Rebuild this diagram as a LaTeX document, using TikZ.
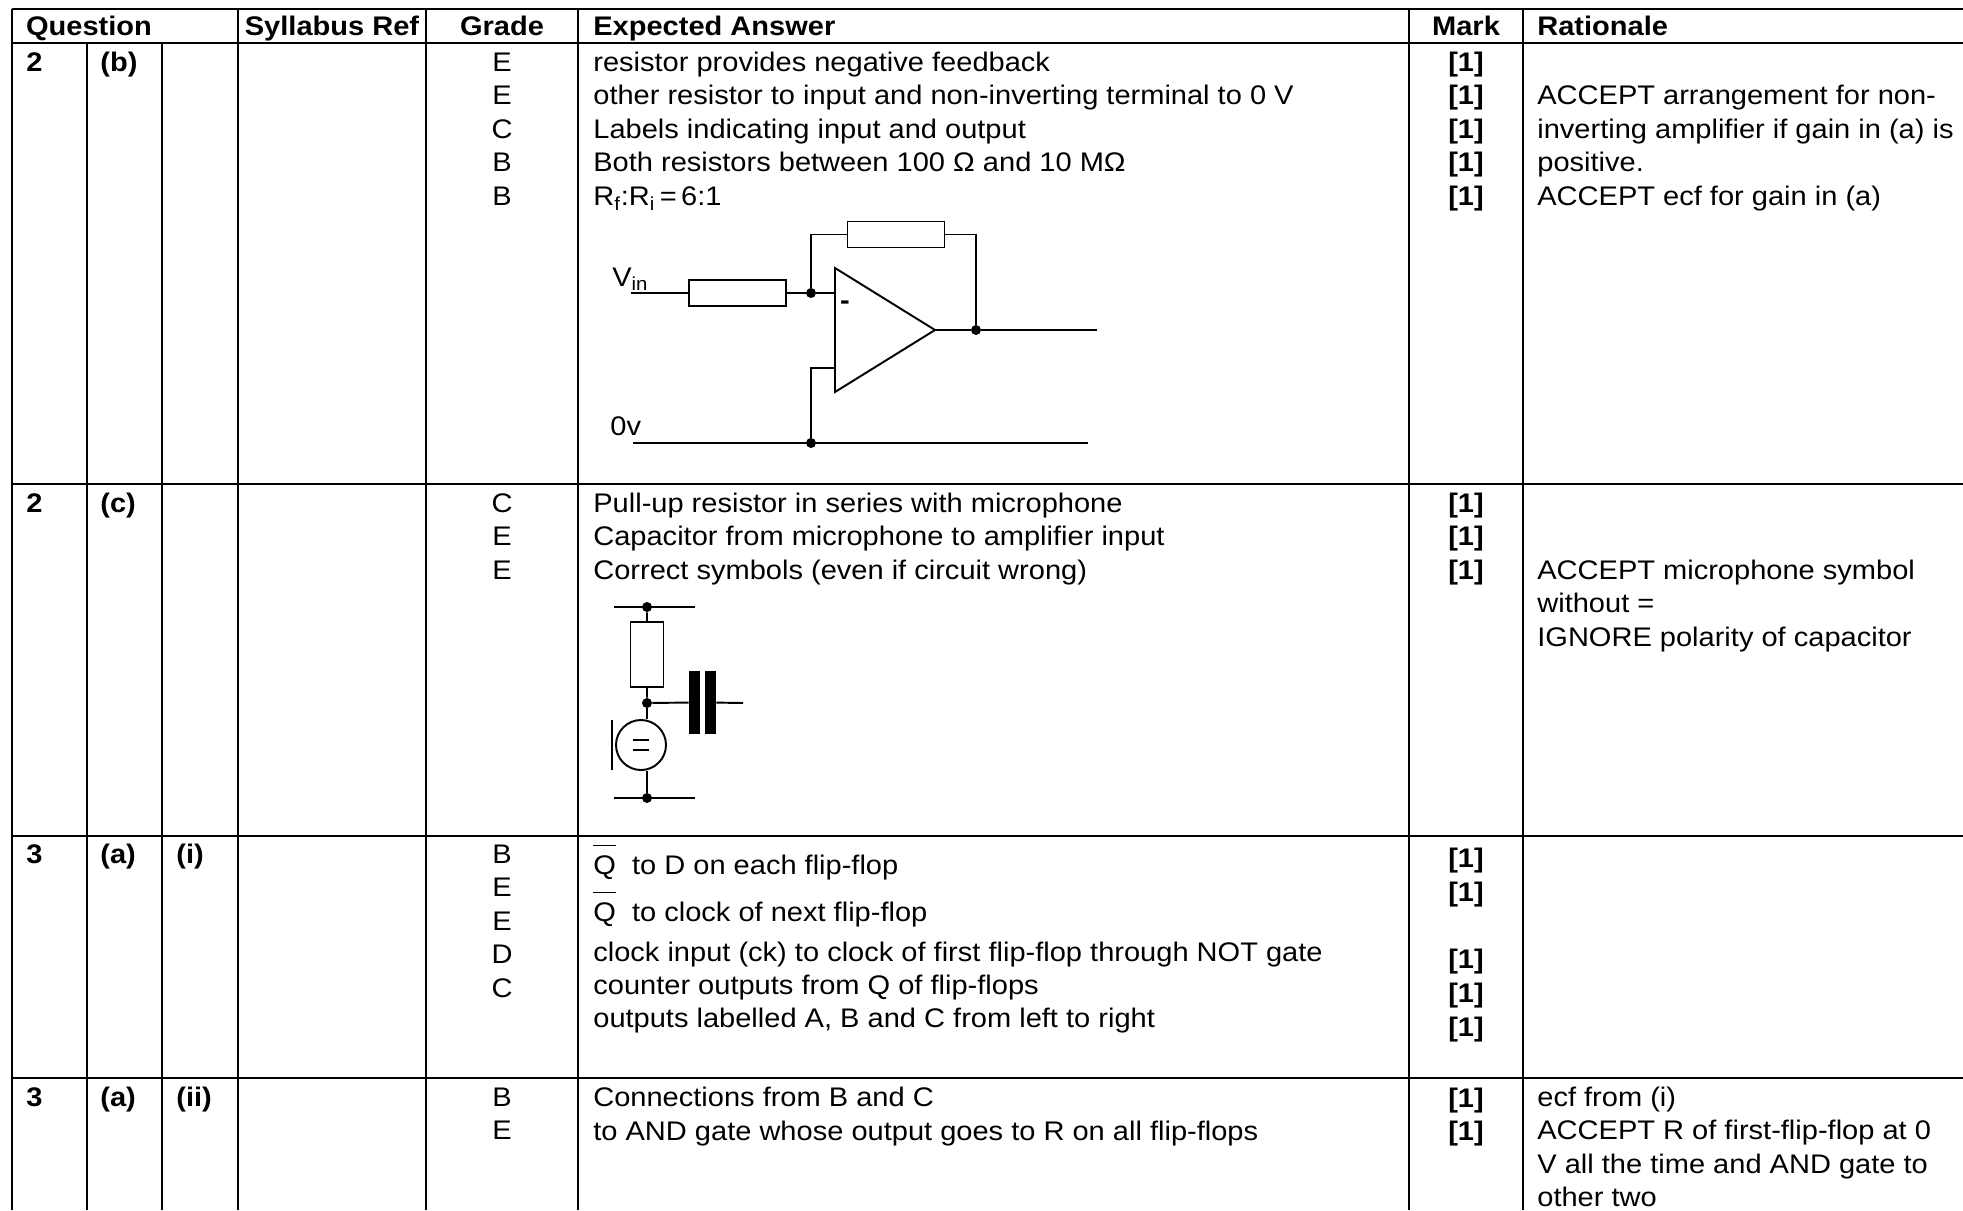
\documentclass[tikz,border=0pt]{standalone}
\usepackage{fontspec}
\setmainfont{Liberation Sans}[FakeStretch=1.08]
\usetikzlibrary{positioning}

\newcommand{\qbar}{$\overline{\mbox{\rule{0pt}{15pt}Q}}$}

\tikzset{
  rule/.style={line width=1.5pt},
  colrule/.style={line width=1.2pt},
  txt/.style={anchor=base west, inner sep=0pt, font=\fontsize{15.3}{19.1}\selectfont},
  ctr/.style={anchor=base, inner sep=0pt, font=\fontsize{15.3}{19.1}\selectfont},
  hd/.style={txt, font=\fontsize{15.3}{19.1}\selectfont\bfseries},
  hdc/.style={ctr, font=\fontsize{15.3}{19.1}\selectfont\bfseries},
  wire/.style={line width=1.1pt},
  res/.style={draw, line width=1.1pt, fill=white, inner sep=0pt, minimum width=1.94cm, minimum height=0.52cm},
  vres/.style={res, minimum width=0.66cm, minimum height=1.3cm},
  plate/.style={fill, inner sep=0pt, minimum width=0.22cm, minimum height=1.26cm},
  dot/.style={circle, fill, inner sep=0pt, minimum size=0.2cm}
}

\begin{document}
\begin{tikzpicture}[x=0.02cm, y=-0.02cm]
\useasboundingbox (0,0) rectangle (1963,1210);

% table rules
\foreach \y in {9,43,484,836,1078}
  \draw[rule] (12,\y) -- (1963,\y);
\draw[rule] (12,9) -- (12,1210);
\foreach \x in {87,162}
  \draw[colrule] (\x,43) -- (\x,1210);
\foreach \x in {238,426,578,1409,1523}
  \draw[colrule] (\x,9) -- (\x,1210);

% header
\node[hdc] (hq) at (89,35) {Question};
\node[hdc] (hs) at (332,35) {Syllabus Ref};
\node[hdc] (hg) at (502,35) {Grade};
\node[hd] (he) at (593,35) {Expected Answer};
\node[hdc] (hm) at (1466,35) {Mark};
\node[hd] (hr) at (1537,35) {Rationale};

% question numbers
\node[hd] (q1) at (26,71) {2};    \node[hd] (p1) at (100,71) {(b)};
\node[hd] (q2) at (26,512) {2};   \node[hd] (p2) at (100,512) {(c)};
\node[hd] (q3) at (26,863) {3};   \node[hd] (p3) at (100,863) {(a)};
\node[hd] (s3) at (176,863) {(i)};
\node[hd] (q4) at (26,1106) {3};  \node[hd] (p4) at (100,1106) {(a)};
\node[hd] (s4) at (176,1106) {(ii)};

% grades
\foreach \g [count=\i] in {E,E,C,B,B}
  \node[ctr] (g2b-\i) at (502,{71+33.6*(\i-1)}) {\g};
\foreach \g [count=\i] in {C,E,E}
  \node[ctr] (g2c-\i) at (502,{512+33.6*(\i-1)}) {\g};
\foreach \g [count=\i] in {B,E,E,D,C}
  \node[ctr] (g3i-\i) at (502,{863+33.6*(\i-1)}) {\g};
\foreach \g [count=\i] in {B,E}
  \node[ctr] (g3ii-\i) at (502,{1106+33.6*(\i-1)}) {\g};

% expected answers
\foreach \t [count=\i] in {resistor provides negative feedback,
    other resistor to input and non-inverting terminal to 0 V,
    Labels indicating input and output,
    Both resistors between 100 Ω and 10 MΩ,
    R\textsubscript{f}:R\textsubscript{i}\,=\,6:1}
  \node[txt] (a2b-\i) at (593,{71+33.6*(\i-1)}) {\t};
\foreach \t [count=\i] in {Pull-up resistor in series with microphone,
    Capacitor from microphone to amplifier input,
    Correct symbols (even if circuit wrong)}
  \node[txt] (a2c-\i) at (593,{512+33.6*(\i-1)}) {\t};
\node[txt] (a3i-1) at (593,874) {\qbar\ \ to D on each flip-flop};
\node[txt] (a3i-2) at (593,921) {\qbar\ \ to clock of next flip-flop};
\node[txt] (a3i-3) at (593,961) {clock input (ck) to clock of first flip-flop through NOT gate};
\node[txt] (a3i-4) at (593,994) {counter outputs from Q of flip-flops};
\node[txt] (a3i-5) at (593,1027) {outputs labelled A, B and C from left to right};
\node[txt] (a3ii-1) at (593,1106) {Connections from B and C};
\node[txt] (a3ii-2) at (593,1140) {to AND gate whose output goes to R on all flip-flops};

% marks
\foreach \y in {71,104.6,138.2,171.8,205.4,512,545.6,579.2,867,901,968,1002,1036,1107,1140}
  \node[hdc] (m-\y) at (1466,\y) {[1]};

% rationale
\foreach \t [count=\i] in {ACCEPT arrangement for non-,
    inverting amplifier if gain in (a) is,
    positive.,
    ACCEPT ecf for gain in (a)}
  \node[txt] (r2b-\i) at (1537,{104.6+33.6*(\i-1)}) {\t};
\foreach \t [count=\i] in {ACCEPT microphone symbol,
    without =,
    IGNORE polarity of capacitor}
  \node[txt] (r2c-\i) at (1537,{579.2+33.6*(\i-1)}) {\t};
\foreach \t [count=\i] in {ecf from (i),
    ACCEPT R of first-flip-flop at 0,
    V all the time and AND gate to,
    other two}
  \node[txt] (r3ii-\i) at (1537,{1106+33.6*(\i-1)}) {\t};

% inverting amplifier
\node[txt] (vinl) at (612,286) {V\textsubscript{in}};
\node[txt] (zerol) at (610,435) {0v};
\coordinate (vin) at (631,293);
\node[res] (ri) at (737.5,293) {};
\node[dot] (jn) at (811,293) {};
\coordinate (inm) at (835,293);
\coordinate (inp) at (835,368);
\coordinate (tp) at (835,268);
\coordinate (bt) at (835,392);
\coordinate (tip) at (935,330);
\node[res] (rf) at (896,234.5) {};
\node[dot] (jo) at (976,330) {};
\coordinate (vout) at (1097,330);
\node[dot] (jg) at (811,443) {};
\coordinate (g0) at (633,443);
\coordinate (g1) at (1088,443);
\node[hdc] (minus) at (845,309) {-};
\draw[wire] (tp) -- (tip) -- (bt) -- cycle;
\draw[wire] (vin) -- (ri) -- (jn) -- (inm);
\draw[wire] (jn) |- (rf) -| (jo);
\draw[wire] (tip) -- (jo) -- (vout);
\draw[wire] (inp) -| (jg);
\draw[wire] (g0) -- (g1);

% microphone with pull-up and capacitor
\coordinate (t0) at (614,607);
\coordinate (t1) at (695,607);
\node[dot] (jt) at (647,607) {};
\node[vres] (rp) at (647,654.5) {};
\node[dot] (jm) at (647,703) {};
\node[plate] (c1) at (694.5,702.5) {};
\node[plate] (c2) at (710.5,702.5) {};
\coordinate (co) at (743,703);
\node[draw, circle, wire, inner sep=0pt, minimum size=1.0cm] (mic) at (641,745) {};
\node[dot] (jb) at (647,798) {};
\coordinate (b0) at (614,798);
\coordinate (b1) at (695,798);
\draw[wire] (t0) -- (t1);
\draw[wire] (jt) -- (rp) -- (jm) -- (c1);
\draw[wire] (c2) -- (co);
\draw[wire] (jm) -- (jm |- mic.north);
\draw[wire] (jb |- mic.south) -- (jb);
\draw[wire] (b0) -- (b1);
\draw[wire] (mic.west) ++(-3,-25) -- ++(0,50);
\draw[wire] (mic.center) ++(-8,-5) -- ++(16,0) ++(0,10) -- ++(-16,0);
\end{tikzpicture}
\end{document}
